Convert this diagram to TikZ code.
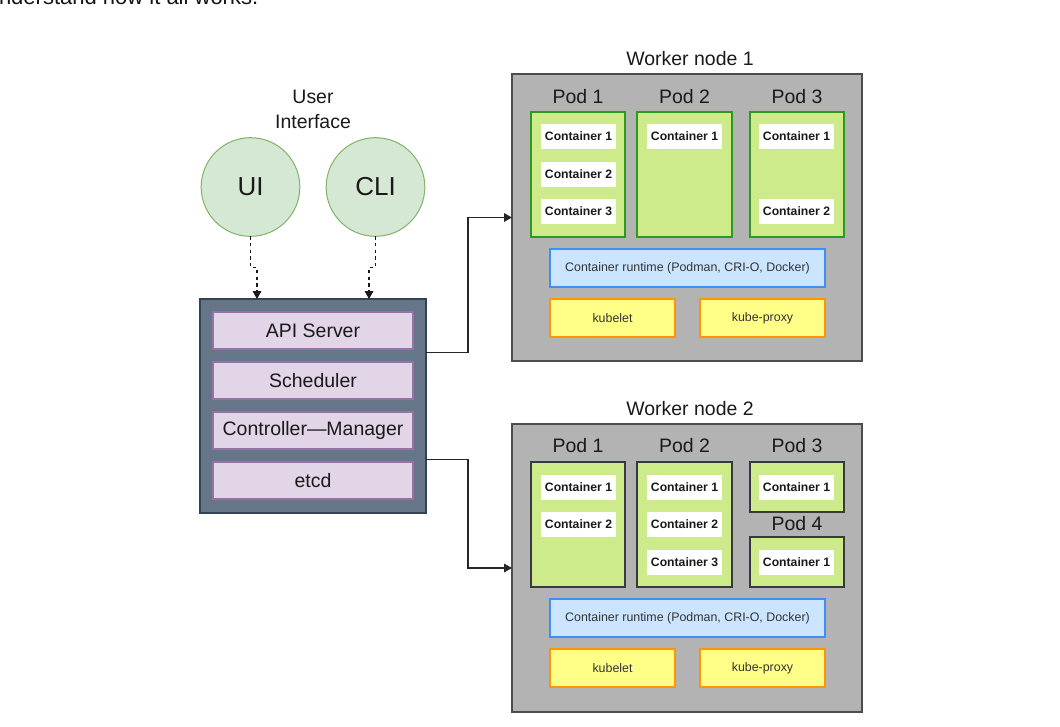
\documentclass[tikz,border=0pt]{standalone}
\usepackage{fontspec}
\setmainfont{Liberation Sans}
\usetikzlibrary{arrows.meta,calc}
\definecolor{wfill}{HTML}{B3B3B3}
\definecolor{wdraw}{HTML}{4D4D4D}
\definecolor{podfill}{HTML}{CDEB8B}
\definecolor{podgreen}{HTML}{2D9A1B}
\definecolor{poddark}{HTML}{36393D}
\definecolor{rtfill}{HTML}{CCE5FF}
\definecolor{rtdraw}{HTML}{3D8EF5}
\definecolor{kfill}{HTML}{FFFF88}
\definecolor{kdraw}{HTML}{FF9500}
\definecolor{cpfill}{HTML}{647687}
\definecolor{cpdraw}{HTML}{314354}
\definecolor{mfill}{HTML}{E1D5E7}
\definecolor{mdraw}{HTML}{9673A6}
\definecolor{uifill}{HTML}{D5E8D4}
\definecolor{uidraw}{HTML}{82B366}
\definecolor{txt}{HTML}{1A1A1A}
\newcommand\rbox[7]{\node[#1, minimum width={(#4-#2)*0.75pt}, minimum height={(#5-#3)*0.75pt}] (#6) at ({(#2+#4)/2},{(#3+#5)/2}) {#7};}
\begin{document}
\begin{tikzpicture}[x=0.75pt,y=-0.75pt,
  every node/.style={inner sep=0pt, outer sep=0pt, text=txt},
  big/.style={font=\fontsize{14.6}{18.75}\selectfont},
  worker/.style={draw=wdraw, fill=wfill, line width=1pt},
  podg/.style={draw=podgreen, fill=podfill, line width=0.9pt},
  podd/.style={draw=poddark, fill=podfill, line width=0.9pt},
  cont/.style={fill=white, font=\fontsize{9.15}{11}\selectfont\bfseries},
  runtime/.style={draw=rtdraw, fill=rtfill, line width=1pt, font=\fontsize{9.3}{11}\selectfont, text=black!80},
  kube/.style={draw=kdraw, fill=kfill, line width=1pt, font=\fontsize{9.3}{11}\selectfont, text=black!80},
  cplane/.style={draw=cpdraw, fill=cpfill, line width=0.9pt},
  mod/.style={draw=mdraw, fill=mfill, line width=0.9pt, big},
  uicirc/.style={circle, draw=uidraw, fill=uifill, line width=0.75pt, minimum size=74pt, font=\fontsize{19.5}{22}\selectfont},
  dasharrow/.style={draw=black!90, line width=0.9pt, dash pattern=on 2.6pt off 2.4pt, -{Triangle[length=6pt,width=6.5pt]}},
  conn/.style={draw=black!85, line width=0.9pt, -{Triangle[length=6pt,width=6.5pt]}}
]
\useasboundingbox (0,0) rectangle (1060,726);
\clip (0,0) rectangle (1060,726);
\fill[white] (0,0) rectangle (1060,726);

% cut-off intro line
\node[anchor=base west, font=\fontsize{16.5}{20}\selectfont, text=black!92] (intro) at (-1,4.5) {nderstand how it all works.};

% user interface
\node[big, align=center] (uilabel) at (313,109.5) {User\\Interface};
\node[uicirc] (ui) at (250.5,187) {UI};
\node[uicirc] (cli) at (375.5,187) {CLI};

% control plane
\rbox{cplane}{200}{299}{426}{513}{cp}{}
\rbox{mod}{213}{312}{413}{349}{api}{API Server}
\rbox{mod}{213}{362}{413}{399}{sched}{Scheduler}
\rbox{mod}{213}{412}{413}{449}{ctrl}{Controller—Manager}
\rbox{mod}{213}{462}{413}{499}{etcd}{etcd}

% worker node 1
\node[big] (w1title) at (690,59) {Worker node 1};
\rbox{worker}{512}{74}{862}{361}{w1}{}
\node[big] (w1p1l) at (578,97) {Pod 1};
\node[big] (w1p2l) at (684.5,97) {Pod 2};
\node[big] (w1p3l) at (797,97) {Pod 3};
\rbox{podg}{531}{112}{625}{237}{w1p1}{}
\rbox{podg}{637}{112}{732}{237}{w1p2}{}
\rbox{podg}{750}{112}{844}{237}{w1p3}{}
\rbox{cont}{541}{124}{616}{149}{w1p1c1}{Container 1}
\rbox{cont}{541}{162}{616}{187}{w1p1c2}{Container 2}
\rbox{cont}{541}{199}{616}{224}{w1p1c3}{Container 3}
\rbox{cont}{647}{124}{722}{149}{w1p2c1}{Container 1}
\rbox{cont}{759}{124}{834}{149}{w1p3c1}{Container 1}
\rbox{cont}{759}{199}{834}{224}{w1p3c2}{Container 2}
\rbox{runtime}{550}{249}{825}{287}{w1rt}{Container runtime (Podman, CRI-O, Docker)}
\rbox{kube}{550}{299}{675}{337}{w1kl}{kubelet}
\rbox{kube}{700}{299}{825}{337}{w1kp}{kube-proxy}

% worker node 2
\node[big] (w2title) at (690,409) {Worker node 2};
\rbox{worker}{512}{424}{862}{712}{w2}{}
\node[big] (w2p1l) at (578,446) {Pod 1};
\node[big] (w2p2l) at (684.5,446) {Pod 2};
\node[big] (w2p3l) at (797,446) {Pod 3};
\node[big] (w2p4l) at (797,524) {Pod 4};
\rbox{podd}{531}{462}{625}{587}{w2p1}{}
\rbox{podd}{637}{462}{732}{587}{w2p2}{}
\rbox{podd}{750}{462}{844}{512}{w2p3}{}
\rbox{podd}{750}{537}{844}{587}{w2p4}{}
\rbox{cont}{541}{475}{616}{500}{w2p1c1}{Container 1}
\rbox{cont}{541}{512}{616}{537}{w2p1c2}{Container 2}
\rbox{cont}{647}{475}{722}{500}{w2p2c1}{Container 1}
\rbox{cont}{647}{512}{722}{537}{w2p2c2}{Container 2}
\rbox{cont}{647}{550}{722}{575}{w2p2c3}{Container 3}
\rbox{cont}{759}{475}{834}{500}{w2p3c1}{Container 1}
\rbox{cont}{759}{550}{834}{575}{w2p4c1}{Container 1}
\rbox{runtime}{550}{599}{825}{637}{w2rt}{Container runtime (Podman, CRI-O, Docker)}
\rbox{kube}{550}{649}{675}{687}{w2kl}{kubelet}
\rbox{kube}{700}{649}{825}{687}{w2kp}{kube-proxy}

% connectors
\draw[dasharrow] (ui.south) -- ++(0,31) -| ([xshift=-42pt]cp.north);
\draw[dasharrow] (cli.south) -- ++(0,31) -| ([xshift=42pt]cp.north);
\draw[conn] ([yshift=40.1pt]cp.east) -- ++(42,0) |- (w1.west);
\draw[conn] ([yshift=-40pt]cp.east) -- ++(42,0) |- (w2.west);
\end{tikzpicture}
\end{document}
